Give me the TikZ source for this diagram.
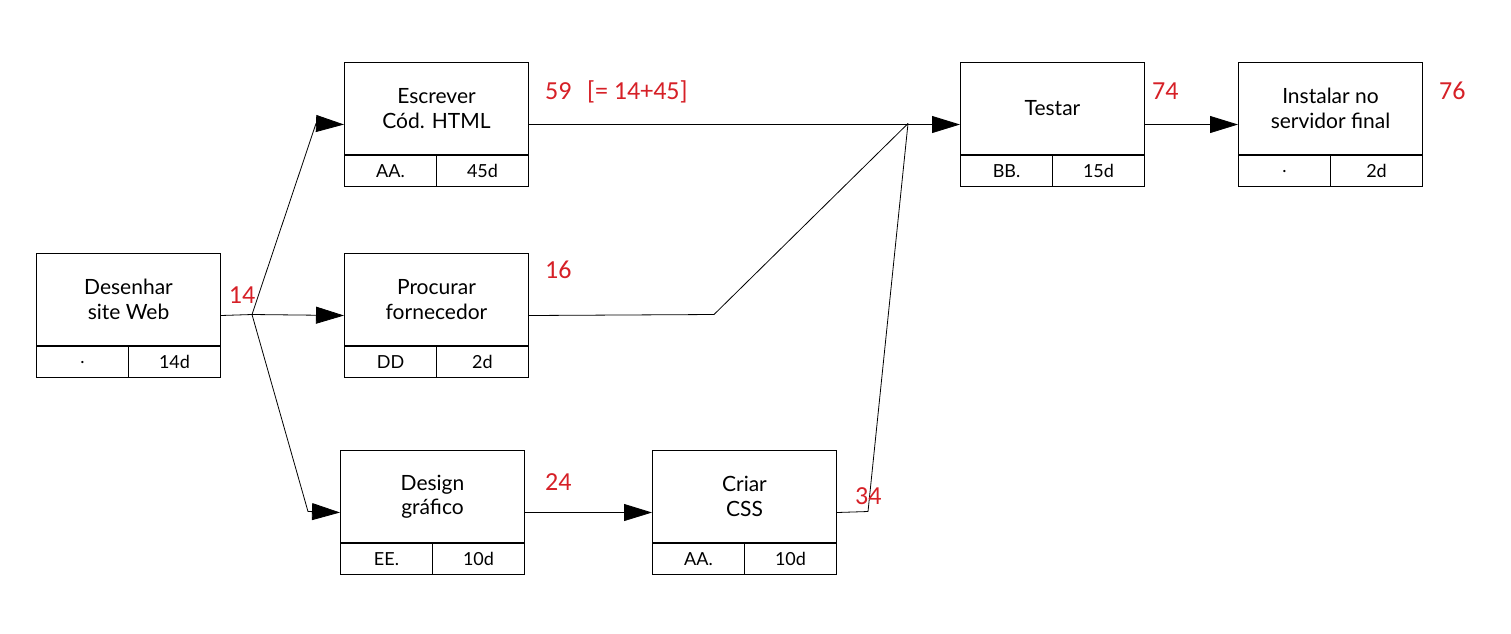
\documentclass[tikz,border=0pt]{standalone}
\usepackage{fontspec}
\setmainfont{Lato}
\newfontfamily\redfont{Carlito}
\usetikzlibrary{arrows.meta,calc}
\definecolor{numred}{RGB}{214,32,39}
\tikzset{
  toptask/.style={draw, line width=1pt, minimum width=184pt, minimum height=92pt, inner sep=0pt, align=center, font=\fontsize{21}{24.5}\selectfont},
  cell/.style={draw, line width=1pt, minimum width=92pt, minimum height=31pt, inner sep=0pt, font=\fontsize{18}{20}\selectfont},
  conn/.style={line width=0.8pt},
  arr/.style={conn, -{Triangle[length=28pt,width=17pt]}},
  num/.style={text=numred, font=\redfont\fontsize{26}{28}\selectfont, inner sep=0pt}
}
\newcommand{\taskbox}[6]{%
  \node[toptask, anchor=north west] (#1) at (#2,#3) {#4};
  \node[cell, anchor=north west] (#1-l) at (#1.south west) {#5};
  \node[cell, anchor=north east] (#1-r) at (#1.south east) {#6};
  \coordinate (#1-in) at ($(#1.north west)!0.5!(#1-l.south west)$);
  \coordinate (#1-out) at ($(#1.north east)!0.5!(#1-r.south east)$);
}
\begin{document}
\begin{tikzpicture}[x=1pt,y=-1pt]
\useasboundingbox (0,0) rectangle (1511,633);
\taskbox{des}{36}{253}{Desenhar\\site Web}{.}{14d}
\taskbox{esc}{344}{62}{Escrever\\Cód. HTML}{AA.}{45d}
\taskbox{pro}{344}{253}{Procurar\\fornecedor}{DD}{2d}
\taskbox{dsg}{340}{450}{Design\\gráfico}{EE.}{10d}
\taskbox{css}{652}{450}{Criar\\CSS}{AA.}{10d}
\taskbox{tst}{960}{62}{Testar}{BB.}{15d}
\taskbox{ins}{1238}{62}{Instalar no\\servidor final}{.}{2d}
\coordinate (f1) at (252,314.5);
\coordinate (e1) at (316,123.5);
\coordinate (g1) at (308,511.5);
\coordinate (j1) at (908,123.5);
\coordinate (p1) at (714,314.5);
\coordinate (c1) at (868,511.5);
\draw[conn] (des-out) -- (f1);
\draw[arr] (f1) -- (e1) -- (esc-in);
\draw[arr] (f1) -- (pro-in);
\draw[arr] (f1) -- (g1) -- (dsg-in);
\draw[arr] (esc-out) -- (tst-in);
\draw[conn] (pro-out) -- (p1) -- (j1);
\draw[conn] (css-out) -- (c1) -- (j1);
\draw[arr] (dsg-out) -- (css-in);
\draw[arr] (tst-out) -- (ins-in);
\node[num, anchor=base] (n14) at (242,303) {14};
\node[num, anchor=base west] (n59) at (545,99) {59\hspace{0.6em}[= 14+45]};
\node[num, anchor=base west] (n16) at (545,278) {16};
\node[num, anchor=base west] (n24) at (545,490) {24};
\node[num, anchor=base west] (n34) at (855,504) {34};
\node[num, anchor=base west] (n74) at (1152,99) {74};
\node[num, anchor=base west] (n76) at (1439,99) {76};
\end{tikzpicture}
\end{document}
